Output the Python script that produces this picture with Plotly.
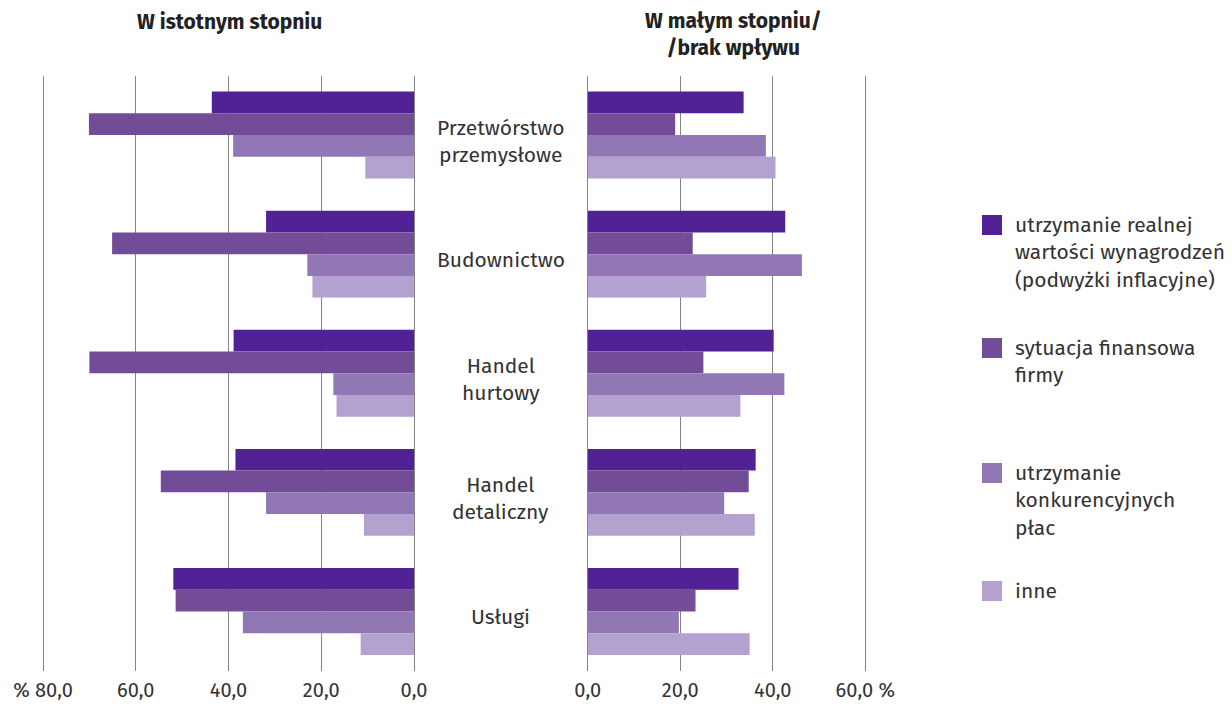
import plotly.graph_objects as go

categories = ["Przetwórstwo przemysłowe", "Budownictwo", "Handel hurtowy", "Handel detaliczny", "Usługi"]
category_labels = ["Przetwórstwo<br>przemysłowe", "Budownictwo", "Handel<br>hurtowy", "Handel<br>detaliczny", "Usługi"]
series_names = [
    "utrzymanie realnej<br>wartości wynagrodzeń<br>(podwyżki inflacyjne)",
    "sytuacja finansowa<br>firmy",
    "utrzymanie<br>konkurencyjnych<br>płac",
    "inne",
]
colors = ["#512296", "#734c98", "#9177b4", "#b3a1cf"]

# W istotnym stopniu (left panel)
significant = [
    [43.6, 31.9, 38.9, 38.5, 51.9],
    [70.1, 65.1, 70.0, 54.6, 51.4],
    [39.0, 23.0, 17.4, 31.9, 36.9],
    [10.5, 21.9, 16.7, 10.8, 11.5],
]
# W małym stopniu / brak wpływu (right panel)
minor = [
    [33.7, 42.7, 40.2, 36.3, 32.6],
    [18.9, 22.7, 25.0, 34.8, 23.3],
    [38.5, 46.3, 42.5, 29.5, 19.7],
    [40.6, 25.6, 33.0, 36.1, 35.0],
]

left_ticks = [80, 60, 40, 20, 0]
left_ticktext = ["% 80,0", "60,0", "40,0", "20,0", "0,0"]
right_ticks = [0, 20, 40, 60]
right_ticktext = ["0,0", "20,0", "40,0", "60,0 %"]

W, H = 1232, 704
OFF = 8  # page offset of the figure in the browser
FONT = "Fira Sans, Lato, Noto Sans, sans-serif"
TXT = "#333333"
GRID = "#858585"
SCALE = 4.635  # px per percentage point

fig = go.Figure()
for i, name in enumerate(series_names):
    fig.add_trace(go.Bar(
        y=categories, x=significant[i], orientation="h", name=name,
        marker=dict(color=colors[i], line=dict(width=0)),
        xaxis="x", yaxis="y", showlegend=False, offsetgroup=str(i),
    ))
for i, name in enumerate(series_names):
    fig.add_trace(go.Bar(
        y=categories, x=minor[i], orientation="h", name=name,
        marker=dict(color=colors[i], line=dict(width=0)),
        xaxis="x2", yaxis="y", showlegend=False, offsetgroup=str(i),
    ))

def px_x(p):
    return (p - OFF) / W

def px_y(p):
    return 1 - (p - OFF) / H

ydom = [px_y(671), px_y(75.5)]

annotations = []
for cat, lab in zip(categories, category_labels):
    annotations.append(dict(
        x=px_x(500.5), xref="paper", y=cat, yref="y", text=lab, showarrow=False,
        xanchor="center", yanchor="middle", align="center", yshift=-6,
        font=dict(family=FONT, size=21, color=TXT),
    ))

annotations.append(dict(
    x=px_x(229), xref="paper", y=px_y(22), yref="paper", text="<b>W istotnym stopniu</b>",
    showarrow=False, xanchor="center", yanchor="middle",
    font=dict(family=FONT, size=21, color="#222222", weight=800),
))
annotations.append(dict(
    x=px_x(733), xref="paper", y=px_y(34), yref="paper",
    text="<b>W małym stopniu/</b><br><b>/brak wpływu</b>",
    showarrow=False, xanchor="center", yanchor="middle", align="center",
    font=dict(family=FONT, size=21, color="#222222", weight=800),
))

shapes = []
legend_first_line_px = [225, 348, 473, 591]
for i, name in enumerate(series_names):
    cy = legend_first_line_px[i]
    shapes.append(dict(
        type="rect", xref="paper", yref="paper",
        x0=px_x(982), x1=px_x(1002), y0=px_y(cy + 10), y1=px_y(cy - 10),
        fillcolor=colors[i], line=dict(width=0),
    ))
    annotations.append(dict(
        x=px_x(1013), xref="paper", y=px_y(cy - 15), yref="paper", text=name,
        showarrow=False, xanchor="left", yanchor="top", align="left",
        font=dict(family=FONT, size=21, color=TXT),
    ))

fig.update_layout(
    width=W, height=H,
    margin=dict(l=0, r=0, t=0, b=0, autoexpand=False),
    paper_bgcolor="white", plot_bgcolor="white",
    barmode="group", bargap=0.27, bargroupgap=0,
    showlegend=False,
    xaxis=dict(
        domain=[px_x(43 - 0.5 * SCALE), px_x(414)], range=[80.5, 0], anchor="y", automargin=False,
        tickvals=left_ticks, ticktext=left_ticktext,
        showgrid=True, gridcolor=GRID, gridwidth=1,
        zeroline=True, zerolinecolor=GRID, zerolinewidth=1,
        showline=False, ticks="", ticklabelstandoff=5,
        tickfont=dict(family=FONT, size=20, color=TXT), fixedrange=True,
    ),
    xaxis2=dict(
        domain=[px_x(587.7), px_x(865.3 + 0.5 * SCALE)], range=[0, 60.5], anchor="y", automargin=False,
        tickvals=right_ticks, ticktext=right_ticktext,
        showgrid=True, gridcolor=GRID, gridwidth=1,
        zeroline=True, zerolinecolor=GRID, zerolinewidth=1,
        showline=False, ticks="", ticklabelstandoff=5,
        tickfont=dict(family=FONT, size=20, color=TXT), fixedrange=True,
    ),
    yaxis=dict(
        domain=ydom, type="category", autorange="reversed", automargin=False,
        showticklabels=False, showgrid=False, zeroline=False, showline=False,
        ticks="", fixedrange=True,
    ),
    annotations=annotations,
    shapes=shapes,
)

fig.write_html("out.html", config={"displayModeBar": False})
